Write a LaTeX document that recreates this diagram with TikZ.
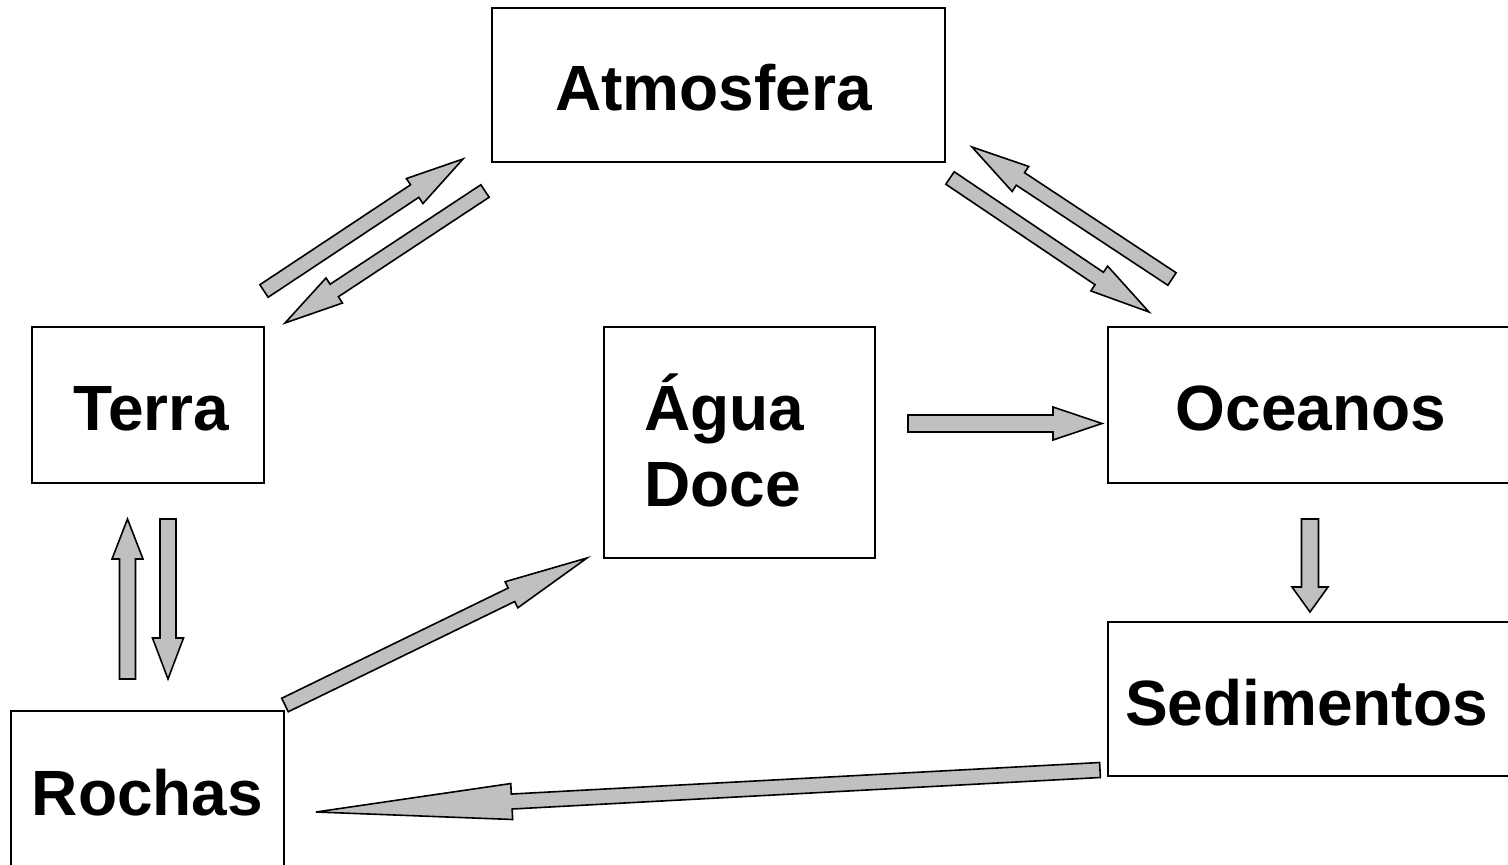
\documentclass[tikz,border=0pt]{standalone}
\usepackage{fontspec}
\setmainfont{Liberation Sans}
\usetikzlibrary{calc}
\definecolor{arrowgray}{HTML}{C0C0C0}
\tikzset{
  box/.style={draw=black, line width=1.5pt, inner sep=0pt, rectangle},
  lbl/.style={font=\fontsize{64}{76}\selectfont\bfseries, inner sep=0pt, anchor=base},
  barrow/.style={draw=black, line width=1.6pt, fill=arrowgray, line join=miter},
}
% tail, tip, half shaft width, half head width, head length
\newcommand{\blockarrow}[5]{%
  \coordinate (tmpC) at ($(#2)!#5!(#1)$);
  \draw[barrow] ($(#1)!#3!90:(#2)$) -- ($(tmpC)!#3!90:(#2)$) -- ($(tmpC)!#4!90:(#2)$)
    -- (#2) -- ($(tmpC)!#4!-90:(#2)$) -- ($(tmpC)!#3!-90:(#2)$) -- ($(#1)!#3!-90:(#2)$) -- cycle;
}
\begin{document}
\begin{tikzpicture}[x=1pt, y=-1pt]
\useasboundingbox (0,0) rectangle (1508,865);
\fill[white] (0,0) rectangle (1508,865);

% boxes
\node[box, minimum width=453pt, minimum height=154pt] (atm) at (718.5,85) {};
\node[box, minimum width=232pt, minimum height=156pt] (terra) at (148,405) {};
\node[box, minimum width=271pt, minimum height=231pt] (agua) at (739.5,442.5) {};
\node[box, minimum width=402pt, minimum height=156pt] (oce) at (1309,405) {};
\node[box, minimum width=402pt, minimum height=154pt] (sed) at (1309,699) {};
\node[box, minimum width=273pt, minimum height=159pt] (roc) at (147.5,790.5) {};

% labels
\node[lbl] (tatm) at (713.5,110) {Atmosfera};
\node[lbl] (tterra) at (151.5,430) {Terra};
\node[lbl, anchor=base west] (tagua1) at (644,430) {Água};
\node[lbl, anchor=base west] (tagua2) at (644,506) {Doce};
\node[lbl] (toce) at (1311,430) {Oceanos};
\node[lbl] (tsed) at (1306.5,725) {Sedimentos};
\node[lbl] (troc) at (147.5,815) {Rochas};

% arrow end points
\coordinate (ta1) at (264,291);   \coordinate (ta2) at (463,159);
\coordinate (at1) at (485,191);   \coordinate (at2) at (285,323);
\coordinate (ao1) at (950,178);   \coordinate (ao2) at (1149,312);
\coordinate (oa1) at (1172,279);  \coordinate (oa2) at (972,147);
\coordinate (rt1) at (127.5,679); \coordinate (rt2) at (127.5,519);
\coordinate (tr1) at (168,519);   \coordinate (tr2) at (168,679);
\coordinate (os1) at (1310,519);  \coordinate (os2) at (1310,612);
\coordinate (ra1) at (285,705);   \coordinate (ra2) at (587,558);
\coordinate (ag1) at (908,423.5); \coordinate (ag2) at (1102,423.5);
\coordinate (sr1) at (1100,770);  \coordinate (sr2) at (316,812);

\blockarrow{ta1}{ta2}{7.5pt}{15pt}{58pt}
\blockarrow{at1}{at2}{7.5pt}{15pt}{59pt}
\blockarrow{ao1}{ao2}{7.5pt}{15pt}{60pt}
\blockarrow{oa1}{oa2}{7.5pt}{15pt}{58pt}
\blockarrow{rt1}{rt2}{8pt}{15.5pt}{40pt}
\blockarrow{tr1}{tr2}{8pt}{15.5pt}{41pt}
\blockarrow{os1}{os2}{8.5pt}{18pt}{25pt}
\blockarrow{ra1}{ra2}{7.5pt}{14.5pt}{84pt}
\blockarrow{ag1}{ag2}{8.5pt}{16.5pt}{49pt}
\blockarrow{sr1}{sr2}{7.5pt}{18pt}{196pt}
\end{tikzpicture}
\end{document}
